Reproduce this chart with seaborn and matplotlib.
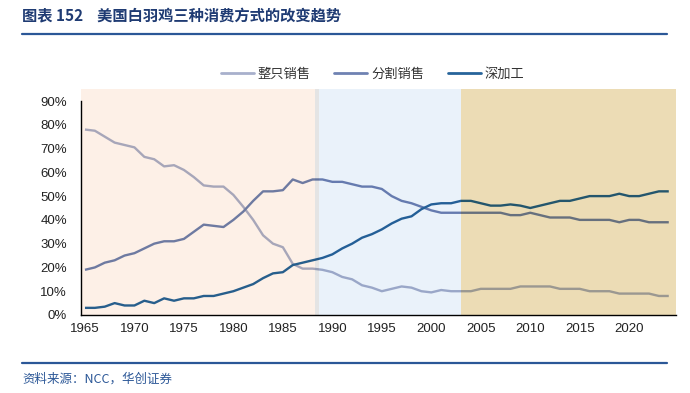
import matplotlib
matplotlib.use("Agg")
import matplotlib.pyplot as plt
import matplotlib.colors as mcolors
from matplotlib.patches import Rectangle
from matplotlib.lines import Line2D
from matplotlib.ticker import PercentFormatter, MultipleLocator
import pandas as pd
import seaborn as sns

# data (share of consumption, %)
years = list(range(1965, 2025))
whole = [78, 77.5, 75, 72.5, 71.5, 70.5, 66.5, 65.5, 62.5, 63, 61, 58, 54.5, 54, 54,
         50.5, 45.5, 40, 33.5, 30, 28.5, 21.5, 19.5,
         19.5, 19, 18, 16, 15, 12.5, 11.5, 10, 11, 12, 11.5, 10, 9.5, 10.5, 10, 10,
         10, 11, 11, 11, 11, 12, 12, 12, 12, 11, 11, 11, 10, 10, 10, 9, 9, 9, 9, 8, 8]
split = [19, 20, 22, 23, 25, 26, 28, 30, 31, 31, 32, 35, 38, 37.5, 37,
         40, 43.5, 48, 52, 52, 52.5, 57, 55.5,
         57, 57, 56, 56, 55, 54, 54, 53, 50, 48, 47, 45.5, 44, 43, 43, 43,
         43, 43, 43, 43, 42, 42, 43, 42, 41, 41, 41, 40, 40, 40, 40, 39, 40, 40, 39, 39, 39]
processed = [3, 3, 3.5, 5, 4, 4, 6, 5, 7, 6, 7, 7, 8, 8, 9,
             10, 11.5, 13, 15.5, 17.5, 18, 21, 22,
             23, 24, 25.5, 28, 30, 32.5, 34, 36, 38.5, 40.5, 41.5, 44.5, 46.5, 47, 47, 48,
             48, 47, 46, 46, 46.5, 46, 45, 46, 47, 48, 48, 49, 50, 50, 50, 51, 50, 50, 51, 52, 52]
series_names = ["整只销售", "分割销售", "深加工"]

df = pd.DataFrame({
    "year": years * 3,
    "share": [v / 100 for v in whole + split + processed],
    "series": [s for s in series_names for _ in years],
})

base_colors = ["#a8b0cc", "#6f82b2", "#27649a"]
# background periods: (start, end, colour)
periods = [(1964.6, 1988.25, "#fdf0e7"),
           (1988.25, 1988.65, "#e4e4e4"),
           (1988.65, 2003.0, "#eaf2fa"),
           (2003.0, 2024.75, "#ecdcb5")]

sns.set_style("white")
plt.rcParams['font.family'] = ['Liberation Sans', 'Noto Sans CJK SC']

fig = plt.figure(figsize=(6.9, 3.93), dpi=100)
ax = fig.add_axes([0.1174, 0.1985, 0.8626, 0.5445])

for x0, x1, c in periods:
    ax.axvspan(x0, x1, ymin=0, ymax=1.055, color=c, lw=0, zorder=0, clip_on=False)

    # the shading multiplies with the lines underneath
    bg = mcolors.to_rgb(c)
    pal = {}
    for name, col in zip(series_names, base_colors):
        rgb = mcolors.to_rgb(col)
        pal[name] = tuple(a * b for a, b in zip(rgb, bg))
    n0 = len(ax.lines)
    sns.lineplot(data=df, x="year", y="share", hue="series", hue_order=series_names,
                 palette=pal, legend=False, ax=ax, linewidth=1.7, zorder=2)
    clip = Rectangle((x0, -1), x1 - x0, 3, transform=ax.transData)
    for ln in ax.lines[n0:]:
        ln.set_clip_path(clip)
        ln.set_solid_capstyle("butt")

ax.set_xlim(1964.6, 2024.75)
ax.set_ylim(0, 0.9)
ax.yaxis.set_major_locator(MultipleLocator(0.1))
ax.yaxis.set_major_formatter(PercentFormatter(1.0, decimals=0))
ax.xaxis.set_major_locator(MultipleLocator(5))
ax.xaxis.set_minor_locator(MultipleLocator(1))
ax.set_xlabel("")
ax.set_ylabel("")

for s in ["top", "right"]:
    ax.spines[s].set_visible(False)
for s in ["left", "bottom"]:
    ax.spines[s].set_color("black")
    ax.spines[s].set_linewidth(1.0)
    ax.spines[s].set_zorder(3)

ax.tick_params(axis="x", which="both", direction="in", length=4, width=0.8,
               color="black", labelsize=9.5, pad=6, labelcolor="#222222")
ax.tick_params(axis="y", which="major", direction="in", length=4, width=0.8,
               color="black", labelsize=9.5, pad=10, labelcolor="#222222")
ax.tick_params(axis="x", which="minor", length=4)

handles = [Line2D([0], [0], color=c, lw=2) for c in base_colors]
ax.legend(handles, series_names, loc="center", bbox_to_anchor=(0.49, 1.126), ncol=3,
          frameon=False, fontsize=9.5, handlelength=2.5, columnspacing=1.8,
          handletextpad=0.3, labelcolor="#333333")

# header and footer
fig.text(0.032, 0.957, "图表 152    美国白羽鸡三种消费方式的改变趋势", fontsize=11,
         fontweight="bold", color="#1f3b73", va="center", ha="left",
         family=["Noto Sans CJK SC", "DejaVu Sans"])
fig.add_artist(Line2D([0.032, 0.967], [0.9135, 0.9135], color="#2b5797", lw=1.6))
fig.add_artist(Line2D([0.032, 0.967], [0.0763, 0.0763], color="#2b5797", lw=1.6))
fig.text(0.032, 0.036, "资料来源：NCC，华创证券", fontsize=9, style="italic",
         color="#2b5797", va="center", ha="left",
         family=["Noto Sans CJK SC", "DejaVu Sans"])

fig.savefig("out.png", dpi=100)
